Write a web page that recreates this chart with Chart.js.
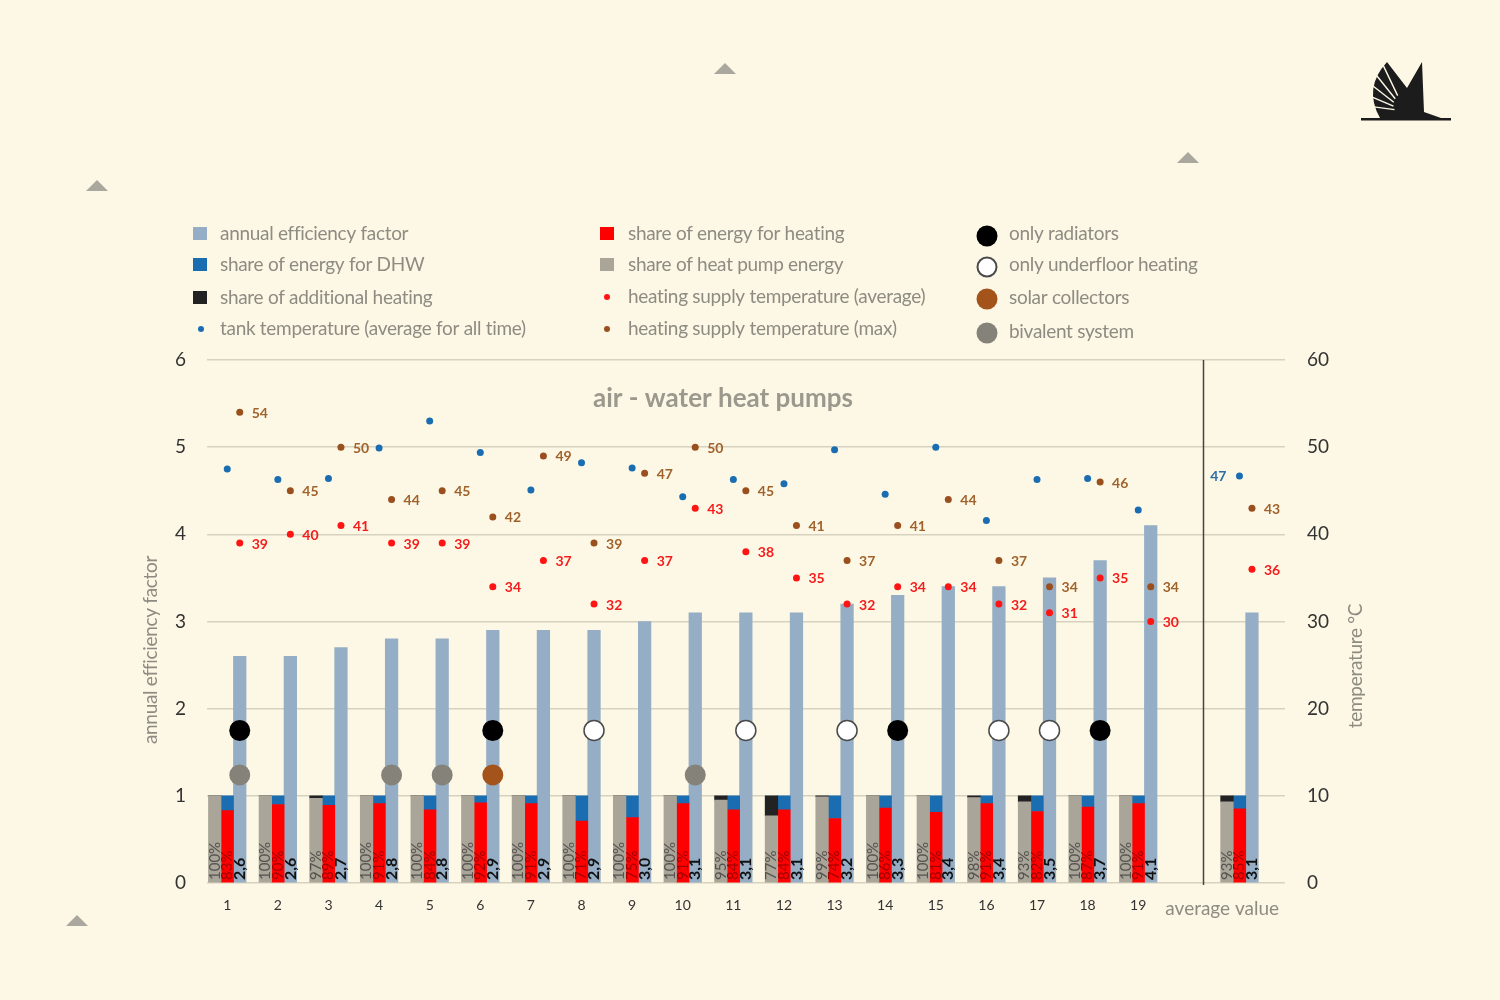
<!DOCTYPE html>
<html lang="en">
<head>
  <meta charset="UTF-8">
  <title>air - water heat pumps</title>
  <script src="https://cdn.jsdelivr.net/npm/chart.js@4.4.0/dist/chart.umd.min.js"></script>
  <style>
    body { margin: 0; background: #fdf8e5; }
    canvas { display: block; }
  </style>
</head>
<body>
  <canvas id="myChart" width="1500" height="1000"></canvas>
  <script>
    // systems 1..19, last entry = average value
    const xPositions = [1, 2, 3, 4, 5, 6, 7, 8, 9, 10, 11, 12, 13, 14, 15, 16, 17, 18, 19, 21]
    const efficiency = [2.6, 2.6, 2.7, 2.8, 2.8, 2.9, 2.9, 2.9, 3.0, 3.1, 3.1, 3.1, 3.2, 3.3, 3.4, 3.4, 3.5, 3.7, 4.1, 3.1]
    const heatPumpShare = [100, 100, 97, 100, 100, 100, 100, 100, 100, 100, 95, 77, 99, 100, 100, 98, 93, 100, 100, 93]
    const heatingShare = [83, 90, 89, 91, 84, 92, 91, 71, 75, 91, 84, 84, 74, 86, 81, 91, 82, 87, 91, 85]
    const tankTemp = [47.5, 46.3, 46.4, 49.9, 53.0, 49.4, 45.1, 48.2, 47.6, 44.3, 46.3, 45.8, 49.7, 44.6, 50.0, 41.6, 46.3, 46.4, 42.8, 46.7]
    const supplyAvg = [39, 40, 41, 39, 39, 34, 37, 32, 37, 43, 38, 35, 32, 34, 34, 32, 31, 35, 30, 36]
    const supplyMax = [54, 45, 50, 44, 45, 42, 49, 39, 47, 50, 45, 41, 37, 41, 44, 37, 34, 46, 34, 43]

    const onlyRadiators = [1, 6, 14, 18]
    const onlyUnderfloor = [8, 11, 13, 16, 17]
    const solarCollectors = [6]
    const bivalentSystem = [1, 4, 5, 10]

    const xTickValues = [1, 2, 3, 4, 5, 6, 7, 8, 9, 10, 11, 12, 13, 14, 15, 16, 17, 18, 19, 20.66]
    const xTickLabels = ['1', '2', '3', '4', '5', '6', '7', '8', '9', '10', '11', '12', '13', '14', '15', '16', '17', '18', '19', 'average value']

    const bg = '#fdf8e5'
    const textGray = '#8e8b82'
    const shift = 0.247
    const heatingRow = 1.75
    const sourceRow = 1.24
    const averageLine = 20.27

    const colors = {
      eff: '#95aec5', dhw: '#1b6db2', extra: '#222222', heating: '#ff0000', hp: '#a9a598',
      tank: '#1b6db2', avg: '#ff1414', max: '#9a4f1e', solar: '#a4531b', bival: '#85827a'
    }

    const decor = {
      id: 'decor',
      beforeDraw: (chart) => {
        const c = chart.ctx
        c.save()
        c.fillStyle = bg
        c.fillRect(0, 0, chart.width, chart.height)
        c.restore()
      },
      beforeDatasetsDraw: (chart) => {
        const c = chart.ctx
        const { top, bottom } = chart.chartArea
        const x = Math.round(chart.scales.x.getPixelForValue(averageLine)) + 0.5
        c.save()
        c.strokeStyle = '#454545'
        c.lineWidth = 1.5
        c.beginPath()
        c.moveTo(x, top)
        c.lineTo(x, bottom + 2)
        c.stroke()
        c.restore()
      },
      afterDatasetsDraw: (chart) => {
        const c = chart.ctx
        const y0 = chart.scales.y.getPixelForValue(0) - 3
        const rotated = (el, text, color, font) => {
          c.save()
          c.translate(el.x, y0)
          c.rotate(-Math.PI / 2)
          c.font = font
          c.fillStyle = color
          c.textAlign = 'left'
          c.textBaseline = 'middle'
          c.fillText(text, 0, 0)
          c.restore()
        }
        chart.getDatasetMeta(0).data.forEach((el, i) => rotated(el, heatPumpShare[i] + '%', '#555250', '15px Lato'))
        chart.getDatasetMeta(2).data.forEach((el, i) => rotated(el, heatingShare[i] + '%', '#a30000', '15px Lato'))
        chart.getDatasetMeta(4).data.forEach((el, i) => rotated(el, efficiency[i].toFixed(1).replace('.', ','), '#111111', 'bold 16px Lato'))

        c.save()
        c.font = 'bold 14px Lato'
        c.textBaseline = 'middle'
        c.textAlign = 'left'
        c.fillStyle = '#a0622c'
        chart.getDatasetMeta(7).data.forEach((el, i) => c.fillText(String(supplyMax[i]), el.x + 12, el.y + 1))
        c.fillStyle = '#f51c1c'
        chart.getDatasetMeta(6).data.forEach((el, i) => c.fillText(String(supplyAvg[i]), el.x + 12, el.y + 1))
        c.textAlign = 'right'
        c.fillStyle = '#2a6da8'
        const tankMeta = chart.getDatasetMeta(5).data
        const last = tankMeta.length - 1
        c.fillText(String(Math.round(tankTemp[last])), tankMeta[last].x - 13, tankMeta[last].y + 1)
        c.restore()
      },
      afterDraw: (chart) => {
        const c = chart.ctx
        c.save()
        // title inside plot
        c.font = 'bold 26px Lato'
        c.fillStyle = '#9b988d'
        c.textAlign = 'center'
        c.textBaseline = 'middle'
        c.fillText('air - water heat pumps', 723, 399)

        // axis titles
        c.font = '19px Lato'
        c.letterSpacing = '-0.3px'
        c.fillStyle = textGray
        c.save()
        c.translate(151, 650)
        c.rotate(-Math.PI / 2)
        c.fillText('annual efficiency factor', 0, 0)
        c.restore()
        c.save()
        c.translate(1356, 666)
        c.rotate(-Math.PI / 2)
        c.fillText('temperature °C', 0, 0)
        c.restore()

        // legend
        const square = (x, y, color) => { c.fillStyle = color; c.fillRect(x - 7, y - 7, 14, 13) }
        const dot = (x, y, r, color, stroke) => {
          c.beginPath()
          c.arc(x, y, r, 0, Math.PI * 2)
          c.fillStyle = color
          c.fill()
          if (stroke) { c.lineWidth = 2; c.strokeStyle = stroke; c.stroke() }
        }
        const label = (x, y, text) => {
          c.font = '19px Lato'
          c.fillStyle = textGray
          c.textAlign = 'left'
          c.textBaseline = 'middle'
          c.fillText(text, x, y)
        }
        square(200, 234, colors.eff); label(220, 234, 'annual efficiency factor')
        square(200, 265, colors.dhw); label(220, 265, 'share of energy for DHW')
        square(200, 298, colors.extra); label(220, 298, 'share of additional heating')
        dot(201, 329, 3, colors.tank); label(220, 329, 'tank temperature (average for all time)')

        square(607, 234, colors.heating); label(628, 234, 'share of energy for heating')
        square(607, 265, colors.hp); label(628, 265, 'share of heat pump energy')
        dot(607, 297, 3, colors.avg); label(628, 297, 'heating supply temperature (average)')
        dot(607, 329, 3, colors.max); label(628, 329, 'heating supply temperature (max)')

        dot(987, 236, 10.5, '#000000'); label(1009, 234, 'only radiators')
        dot(987, 267, 9.5, '#ffffff', '#4a4a4a'); label(1009, 265, 'only underfloor heating')
        dot(987, 299, 10.5, colors.solar); label(1009, 298, 'solar collectors')
        dot(987, 333, 10.5, colors.bival); label(1009, 332, 'bivalent system')
        c.letterSpacing = '0px'

        // small triangles
        c.fillStyle = '#aaa79e'
        const tri = (x, y) => {
          c.beginPath()
          c.moveTo(x - 11, y + 5)
          c.lineTo(x, y - 6)
          c.lineTo(x + 11, y + 5)
          c.closePath()
          c.fill()
        }
        tri(725, 69); tri(1188, 158); tri(97, 186); tri(77, 921)

        // logo
        c.fillStyle = '#1c1c1c'
        c.beginPath()
        c.moveTo(1380, 118)
        c.quadraticCurveTo(1363, 88, 1387, 62)
        c.lineTo(1407, 88)
        c.lineTo(1422, 62)
        c.lineTo(1424, 112)
        c.lineTo(1441, 118)
        c.closePath()
        c.fill()
        c.fillRect(1361, 118, 90, 2.5)
        c.strokeStyle = bg
        c.lineWidth = 1.4
        const pivot = [1405, 111]
        const rim = [[1384, 67], [1377, 76], [1373, 86], [1372, 97], [1375, 107]]
        rim.forEach(p => {
          c.beginPath()
          c.moveTo(pivot[0] + (p[0] - pivot[0]) * 0.35, pivot[1] + (p[1] - pivot[1]) * 0.35)
          c.lineTo(pivot[0] + (p[0] - pivot[0]) * 1.1, pivot[1] + (p[1] - pivot[1]) * 1.1)
          c.stroke()
        })
        c.restore()
      }
    }

    const barSet = (label, data, color, stack) => ({
      type: 'bar', label, data, backgroundColor: color, stack, grouped: false,
      barThickness: 12.6, borderWidth: 0, order: 2, yAxisID: 'y'
    })
    const dotSet = (label, data, color, radius, order, axis, border) => ({
      type: 'scatter', label, data, backgroundColor: color, pointRadius: radius,
      borderColor: border || color, borderWidth: border ? 1.5 : 0, order, yAxisID: axis
    })

    const ctx = document.getElementById('myChart')
    const myChart = new Chart(ctx, {
      type: 'bar',
      data: {
        datasets: [
          barSet('share of heat pump energy', xPositions.map((x, i) => ({ x: x - shift, y: heatPumpShare[i] / 100 })), colors.hp, 'hp'),
          barSet('share of additional heating', xPositions.map((x, i) => ({ x: x - shift, y: 1 - heatPumpShare[i] / 100 })), colors.extra, 'hp'),
          barSet('share of energy for heating', xPositions.map((x, i) => ({ x: x, y: heatingShare[i] / 100 })), colors.heating, 'share'),
          barSet('share of energy for DHW', xPositions.map((x, i) => ({ x: x, y: 1 - heatingShare[i] / 100 })), colors.dhw, 'share'),
          barSet('annual efficiency factor', xPositions.map((x, i) => ({ x: x + shift, y: efficiency[i] })), colors.eff, 'eff'),
          dotSet('tank temperature (average for all time)', xPositions.map((x, i) => ({ x: x, y: tankTemp[i] })), colors.tank, 3.5, 0, 'y2'),
          dotSet('heating supply temperature (average)', xPositions.map((x, i) => ({ x: x + shift, y: supplyAvg[i] })), colors.avg, 3.5, 0, 'y2'),
          dotSet('heating supply temperature (max)', xPositions.map((x, i) => ({ x: x + shift, y: supplyMax[i] })), colors.max, 3.5, 0, 'y2'),
          dotSet('only radiators', onlyRadiators.map(n => ({ x: n + shift, y: heatingRow })), '#000000', 10.5, 1, 'y'),
          dotSet('only underfloor heating', onlyUnderfloor.map(n => ({ x: n + shift, y: heatingRow })), '#ffffff', 10, 1, 'y', '#4a4a4a'),
          dotSet('solar collectors', solarCollectors.map(n => ({ x: n + shift, y: sourceRow })), colors.solar, 10.5, 1, 'y'),
          dotSet('bivalent system', bivalentSystem.map(n => ({ x: n + shift, y: sourceRow })), colors.bival, 10.5, 1, 'y')
        ]
      },
      plugins: [decor],
      options: {
        responsive: false,
        animation: false,
        events: [],
        layout: { padding: { top: 360, left: 0, right: 0, bottom: 0 } },
        plugins: {
          legend: { display: false },
          tooltip: { enabled: false }
        },
        scales: {
          x: {
            type: 'linear',
            min: 0.6,
            max: 21.9,
            offset: false,
            grid: { display: false, offset: false },
            border: { display: false },
            afterBuildTicks: (axis) => { axis.ticks = xTickValues.map(v => ({ value: v })) },
            afterFit: (axis) => { axis.height = 117 },
            ticks: {
              autoSkip: false,
              maxRotation: 0,
              padding: 6,
              callback: (v, i) => xTickLabels[i],
              color: (c) => (c.tick && c.tick.value > 20 ? textGray : '#333333'),
              font: (c) => ({ family: 'Lato', size: c.tick && c.tick.value > 20 ? 19 : 14 })
            }
          },
          y: {
            position: 'left',
            min: 0,
            max: 6,
            afterFit: (axis) => { axis.width = 207 },
            grid: { color: '#d6d2bf', lineWidth: 1.5, drawTicks: false },
            border: { display: false },
            ticks: { stepSize: 1, padding: 21, color: '#333333', font: { family: 'Lato', size: 19 } }
          },
          y2: {
            position: 'right',
            min: 0,
            max: 60,
            afterFit: (axis) => { axis.width = 215 },
            grid: { display: false, drawTicks: false },
            border: { display: false },
            ticks: { stepSize: 10, padding: 22, color: '#333333', font: { family: 'Lato', size: 19 } }
          }
        }
      }
    })
  </script>
</body>
</html>
